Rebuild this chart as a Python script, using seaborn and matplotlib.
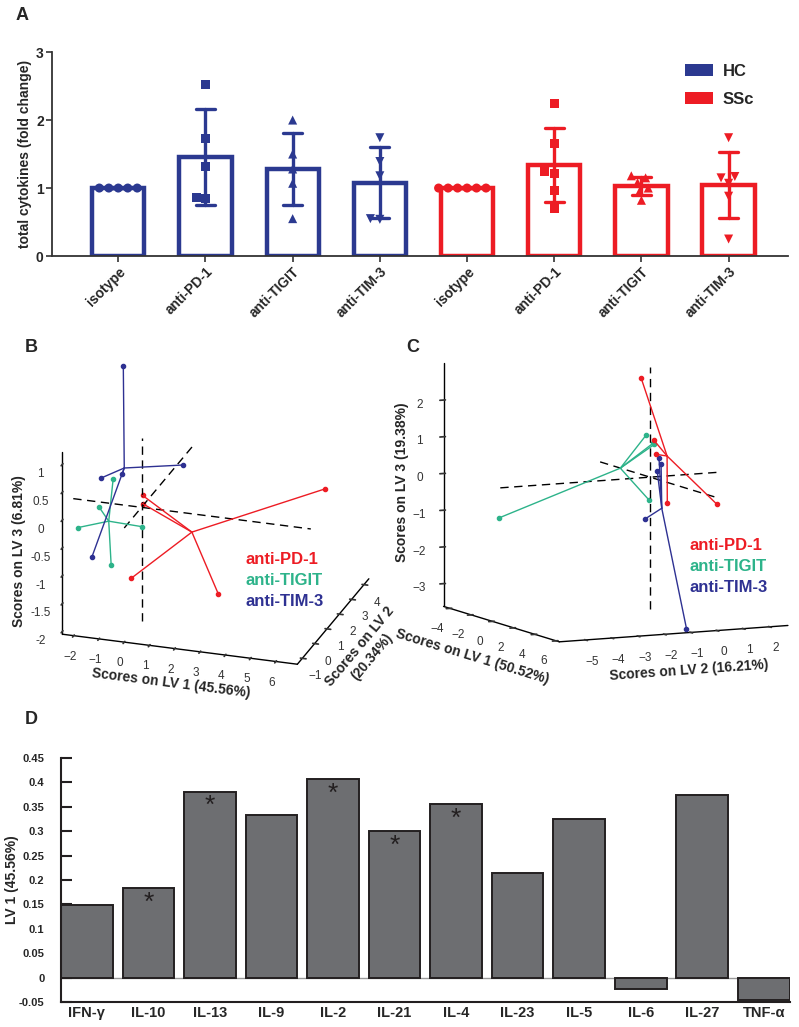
import numpy as np
import pandas as pd
import matplotlib
matplotlib.use('Agg')
import matplotlib.pyplot as plt
import seaborn as sns
from matplotlib.patches import Patch

sns.set_theme(style='white')
plt.rcParams['font.family'] = ['Liberation Sans', 'DejaVu Sans']

# ---------------- Panel A data ----------------
treatments = ['isotype', 'anti-PD-1', 'anti-TIGIT', 'anti-TIM-3']
groups = ['HC', 'SSc']
hc_isotype = [1.0, 1.0, 1.0, 1.0, 1.0]
hc_pd1 = [2.53, 1.73, 1.31, 0.84, 0.86]
hc_tigit = [2.00, 1.50, 1.28, 1.07, 0.55]
hc_tim3 = [1.74, 1.39, 1.18, 0.54, 0.55]
ssc_isotype = [1.0, 1.0, 1.0, 1.0, 1.0, 1.0]
ssc_pd1 = [2.25, 1.66, 1.22, 1.24, 0.96, 0.70]
ssc_tigit = [1.18, 1.15, 1.08, 1.00, 0.95, 0.82]
ssc_tim3 = [1.74, 1.17, 1.15, 1.07, 0.88, 0.25]
group_colors = {'HC': '#2B3990', 'SSc': '#ED1C24'}
treat_markers = {'isotype': 'o', 'anti-PD-1': 's', 'anti-TIGIT': '^', 'anti-TIM-3': 'v'}

# ---------------- Panel B data (scores, HC) ----------------
pd1_B_lv1 = [5.78, -0.20, -0.69, -0.16, 2.80]
pd1_B_lv2 = [3.0, 0.5, 1.5, -0.5, 0.5]
pd1_B_lv3 = [-0.13, 0.07, -0.37, -1.15, -1.53]
tigit_B_lv1 = [-1.61, -1.92, -2.52, 0.28, -1.20]
tigit_B_lv2 = [1.0, 0.5, 0.0, -0.5, 0.0]
tigit_B_lv3 = [0.15, -0.24, -0.51, -0.20, -1.11]
tim3_B_lv1 = [-0.72, -2.09, -0.52, -0.07, -1.72]
tim3_B_lv2 = [0.0, 1.0, -0.5, 3.5, -0.5]
tim3_B_lv3 = [2.50, 0.14, 0.70, -0.17, -0.86]

# ---------------- Panel C data (scores, SSc) ----------------
pd1_C_lv1 = [2.0, 1.0, 0.0, 1.5, 3.0]
pd1_C_lv2 = [-1.15, -0.25, 0.23, 0.05, 1.33]
pd1_C_lv3 = [2.94, 1.10, 0.61, -0.58, -0.54]
tigit_C_lv1 = [-1.0, 0.5, 2.0, 0.0, -3.0]
tigit_C_lv2 = [0.25, -0.09, -0.65, -0.04, -4.52]
tigit_C_lv3 = [1.04, 0.97, 1.10, -0.62, -1.14]
tim3_C_lv1 = [-2.0, 1.0, -1.0, 4.0, 0.0]
tim3_C_lv2 = [1.15, -0.13, 0.21, -0.23, 0.42]
tim3_C_lv3 = [0.28, 0.26, -1.24, -3.76, 0.33]
score_colors = {'anti-PD-1': '#ED1C24', 'anti-TIGIT': '#2DB38A', 'anti-TIM-3': '#2E3192'}

# ---------------- Panel D data ----------------
cytokines = ['IFN-γ', 'IL-10', 'IL-13', 'IL-9', 'IL-2', 'IL-21', 'IL-4', 'IL-23',
             'IL-5', 'IL-6', 'IL-27', 'TNF-α']
lv1_loadings = [0.148, 0.183, 0.381, 0.333, 0.407, 0.301, 0.356, 0.214,
                0.325, -0.024, 0.374, -0.045]
significant = [False, True, True, False, True, True, True, False,
               False, False, False, False]

fig = plt.figure(figsize=(7.99, 10.27), dpi=100)

# ======================= 3D panels =======================
def style3d(ax):
    ax.set_facecolor((1, 1, 1, 0))
    ax.patch.set_alpha(0)
    for axis in (ax.xaxis, ax.yaxis, ax.zaxis):
        axis.set_pane_color((1, 1, 1, 0))
        axis.pane.set_edgecolor((1, 1, 1, 0))
        axis.line.set_color('black')
        axis.line.set_linewidth(1.0)
    ax.grid(False)
    ax.zaxis.set_ticks_position('lower')
    ax.zaxis.set_label_position('lower')
    ax.tick_params(axis='both', labelsize=8.5, colors='#333333', pad=0)
    ax.tick_params(axis='z', labelsize=8.5, colors='#333333', pad=2)


def star(ax, lv1, lv2, lv3, color):
    cx, cy, cz = np.mean(lv1), np.mean(lv2), np.mean(lv3)
    for x, y, z in zip(lv1, lv2, lv3):
        ax.plot([x, cx], [y, cy], [z, cz], color=color, lw=1.0)
    ax.scatter(lv1, lv2, lv3, color=color, s=9, depthshade=False)


# ---- Panel B ----
axB = fig.add_axes([0.0134, 0.3081, 0.50, 0.37], projection='3d')
axB.set_proj_type('ortho')
axB.set_xlim(-2.45, 6.85)
axB.set_ylim(-1.4, 4.4)
axB.set_zlim(-2.05, 1.22)
axB.set_box_aspect((245, 228, 196), zoom=1.0)
axB.view_init(elev=23, azim=-71.9)
style3d(axB)
axB.plot([-2.7, 6.7], [0, 0], [0, 0], color='black', ls='--', lw=1, dashes=(6, 4))
axB.plot([0, 0], [-1.4, 4.3], [0, 0], color='black', ls='--', lw=1, dashes=(6, 4))
axB.plot([0, 0], [0, 0], [-2.04, 1.24], color='black', ls='--', lw=1, dashes=(6, 4))
star(axB, pd1_B_lv1, pd1_B_lv2, pd1_B_lv3, score_colors['anti-PD-1'])
star(axB, tigit_B_lv1, tigit_B_lv2, tigit_B_lv3, score_colors['anti-TIGIT'])
star(axB, tim3_B_lv1, tim3_B_lv2, tim3_B_lv3, score_colors['anti-TIM-3'])
axB.set_xticks(range(-2, 7))
axB.set_yticks(range(-1, 5))
axB.set_zticks([-2, -1.5, -1, -0.5, 0, 0.5, 1])
axB.set_zticklabels(['-2', '-1.5', '-1', '-0.5', '0', '0.5', '1'])
axB.set_xlabel('Scores on LV 1 (45.56%)', fontsize=10, fontweight='bold', labelpad=-3)
axB.set_ylabel('Scores on LV 2\n(20.34%)', fontsize=10, fontweight='bold', labelpad=-1)
axB.set_zlabel('Scores on LV 3 (6.81%)', fontsize=10, fontweight='bold', labelpad=-1)

# ---- Panel C ----
axC = fig.add_axes([0.5092, 0.3286, 0.51, 0.37], projection='3d')
axC.set_proj_type('ortho')
axC.set_xlim(-4.6, 6.3)
axC.set_ylim(-6.0, 2.7)
axC.set_zlim(-3.62, 3.0)
axC.set_box_aspect((263, 251, 243), zoom=1.13)
axC.view_init(elev=8.5, azim=-25.8)
style3d(axC)
axC.plot([-4.7, 6.5], [0, 0], [0, 0], color='black', ls='--', lw=1, dashes=(6, 4))
axC.plot([0, 0], [-5.7, 2.6], [0, 0], color='black', ls='--', lw=1, dashes=(6, 4))
axC.plot([0, 0], [0, 0], [-3.6, 3.0], color='black', ls='--', lw=1, dashes=(6, 4))
star(axC, pd1_C_lv1, pd1_C_lv2, pd1_C_lv3, score_colors['anti-PD-1'])
star(axC, tigit_C_lv1, tigit_C_lv2, tigit_C_lv3, score_colors['anti-TIGIT'])
star(axC, tim3_C_lv1, tim3_C_lv2, tim3_C_lv3, score_colors['anti-TIM-3'])
axC.set_xticks([-4, -2, 0, 2, 4, 6])
axC.set_yticks(range(-5, 3))
axC.set_zticks(range(-3, 3))
axC.set_xlabel('Scores on LV 1 (50.52%)', fontsize=10, fontweight='bold', labelpad=-3)
axC.set_ylabel('Scores on LV 2 (16.21%)', fontsize=10, fontweight='bold', labelpad=-2)
axC.set_zlabel('Scores on LV 3 (19.38%)', fontsize=10, fontweight='bold', labelpad=-4)

# legends for 3D panels
for (x0, y0) in [(245 / 799, 1 - 560 / 1027), (690 / 799, 1 - 546 / 1027)]:
    for i, name in enumerate(['anti-PD-1', 'anti-TIGIT', 'anti-TIM-3']):
        fig.text(x0, y0 - i * 20.5 / 1027, name, color=score_colors[name],
                 fontsize=12, fontweight='bold', va='center', ha='left')

# ======================= Panel A =======================
values_map = {
    ('HC', 'isotype'): hc_isotype, ('HC', 'anti-PD-1'): hc_pd1,
    ('HC', 'anti-TIGIT'): hc_tigit, ('HC', 'anti-TIM-3'): hc_tim3,
    ('SSc', 'isotype'): ssc_isotype, ('SSc', 'anti-PD-1'): ssc_pd1,
    ('SSc', 'anti-TIGIT'): ssc_tigit, ('SSc', 'anti-TIM-3'): ssc_tim3,
}
rows = []
for g in groups:
    for t in treatments:
        for v in values_map[(g, t)]:
            rows.append({'group': g, 'treatment': t, 'cond': f'{g} {t}', 'value': v})
dfA = pd.DataFrame(rows)
order = [f'{g} {t}' for g in groups for t in treatments]

axA = fig.add_axes([0.0651, 0.7507, 0.921, 0.1986])
axA.set_facecolor((1, 1, 1, 0))
sns.barplot(data=dfA, x='cond', y='value', hue='group', order=order,
            palette=group_colors, errorbar='sd', fill=False, width=0.6,
            linewidth=3.2, capsize=0.22, err_kws={'linewidth': 2.4},
            legend=False, ax=axA)
for t in treatments:
    sub = dfA[dfA['treatment'] == t]
    sns.swarmplot(data=sub, x='cond', y='value', hue='group', order=order,
                  palette=group_colors, marker=treat_markers[t], size=6.5,
                  legend=False, ax=axA, zorder=4)
axA.set_xlim(-0.76, 7.68)
axA.set_ylim(0, 3)
axA.set_yticks([0, 1, 2, 3])
axA.set_xticks(range(len(order)))
axA.set_xticklabels([o.split(' ', 1)[1] for o in order], rotation=45,
                    ha='right', rotation_mode='anchor', fontsize=10, fontweight='bold')
for lab in axA.get_yticklabels():
    lab.set_fontsize(10)
    lab.set_fontweight('bold')
axA.set_xlabel('')
axA.set_ylabel('total cytokines (fold change)', fontsize=10, fontweight='bold', labelpad=3)
sns.despine(ax=axA)
for s in ['left', 'bottom']:
    axA.spines[s].set_color('#333333')
    axA.spines[s].set_linewidth(1.3)
    axA.spines[s].set_zorder(5)
axA.tick_params(axis='both', direction='out', length=4, width=1.2, color='#333333',
                left=True, bottom=True, pad=2)
handles = [Patch(facecolor=group_colors[g], edgecolor='none', label=g) for g in groups]
axA.legend(handles=handles, loc='upper left', bbox_to_anchor=(0.84, 1.015), frameon=False,
           prop={'weight': 'bold', 'size': 12}, handlelength=1.7, handleheight=0.7,
           labelspacing=0.75, handletextpad=0.55)

# ======================= Panel D =======================
axD = fig.add_axes([0.0763, 0.0243, 0.912, 0.2376])
dfD = pd.DataFrame({'cytokine': cytokines, 'loading': lv1_loadings})
sns.barplot(data=dfD, x='cytokine', y='loading', order=cytokines, color='#6D6E71',
            edgecolor='#231F20', linewidth=1.4, width=0.84, saturation=1, ax=axD)
axD.set_xlim(-0.42, 11.42)
axD.set_ylim(-0.05, 0.45)
axD.axhline(0, color='#9A9A9A', lw=1.0, zorder=0)
for i, (v, sig) in enumerate(zip(lv1_loadings, significant)):
    if sig:
        axD.text(i, v - 0.03, '*', ha='center', va='center', fontsize=19, color='#231F20')
yt = [0.45, 0.4, 0.35, 0.3, 0.25, 0.2, 0.15, 0.1, 0.05, 0, -0.05]
axD.set_yticks(yt)
axD.set_yticklabels([f'{v:g}' for v in yt], fontsize=8, fontweight='bold')
axD.set_xticks(range(len(cytokines)))
axD.set_xticklabels(cytokines, fontsize=10.5, fontweight='bold')
axD.set_xlabel('')
axD.set_ylabel('LV 1 (45.56%)', fontsize=10, fontweight='bold', labelpad=0)
sns.despine(ax=axD)
for s in ['left', 'bottom']:
    axD.spines[s].set_color('#231F20')
    axD.spines[s].set_linewidth(1.5)
axD.tick_params(axis='y', direction='in', length=8, width=1.5, color='#231F20', left=True, pad=12)
axD.tick_params(axis='x', length=0, pad=3)

# panel letters
for lbl, x, y in [('A', 16, 15), ('B', 25, 347), ('C', 406, 347), ('D', 25, 720)]:
    fig.text(x / 799, 1 - y / 1027, lbl, fontsize=13, fontweight='bold', va='center', ha='left')

fig.savefig('out.png', dpi=100)
